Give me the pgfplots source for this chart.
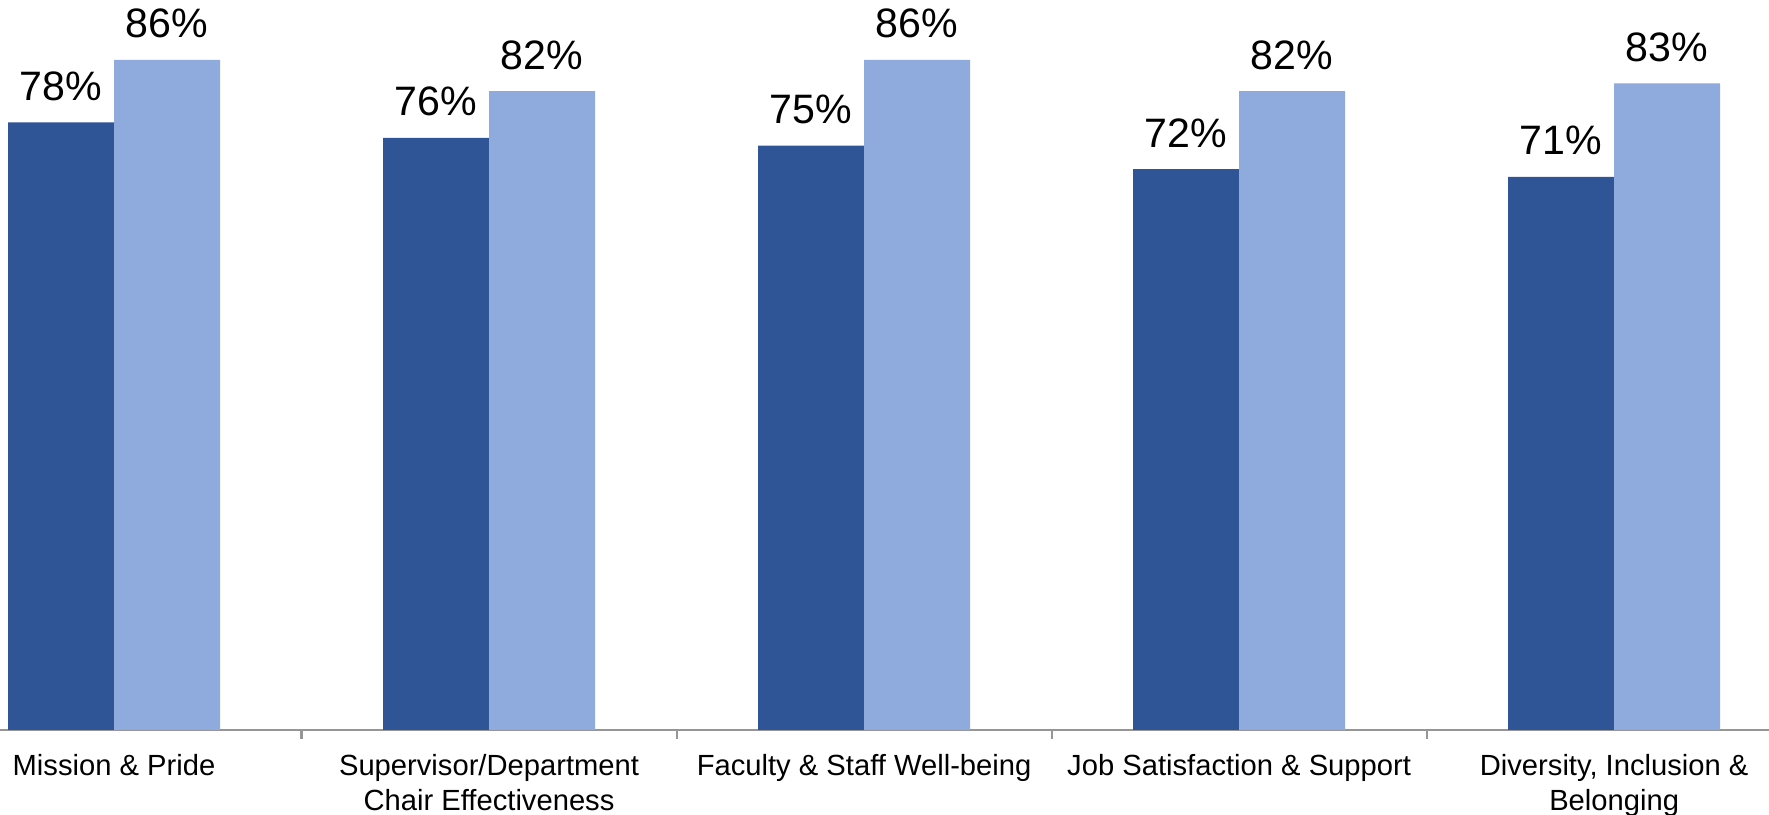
\documentclass[border=0pt]{standalone}
\usepackage{pgfplots}
\pgfplotsset{compat=1.18}
\usepackage{fontspec}
\setmainfont{Liberation Sans}
\definecolor{darkbar}{HTML}{2F5597}
\definecolor{lightbar}{HTML}{8FAADC}
\definecolor{axgray}{RGB}{150,150,150}
\begin{document}
\begin{tikzpicture}
\begin{axis}[
  name=ax,
  scale only axis,
  width=176.9mm, height=73mm,
  xmin=-0.304, xmax=4.413,
  ymin=0, ymax=93.7,
  ybar=0pt, bar width=10.6mm,
  axis x line=bottom, axis y line=none,
  x axis line style={-, draw=axgray, line width=0.6pt},
  xtick={0,1,2,3,4},
  xticklabels={{Mission \& Pride}, {Supervisor/Department\\Chair Effectiveness}, {Faculty \& Staff Well-being}, {Job Satisfaction \& Support}, {Diversity, Inclusion \&\\Belonging}},
  major tick length=0pt,
  extra x ticks={0.5,1.5,2.5,3.5},
  extra x tick labels={},
  extra x tick style={major tick length=0.9mm, tick align=outside, tick style={draw=axgray, line width=0.6pt}},
  xticklabel style={font=\fontsize{8.3}{10}\selectfont, align=center, anchor=north, inner sep=0pt, yshift=-2.4mm},
  /pgf/number format/assume math mode=true,
  nodes near coords={\pgfmathprintnumber{\pgfplotspointmeta}\%},
  every node near coord/.append style={font=\fontsize{11.7}{14}\selectfont, anchor=base, inner sep=0pt, yshift=2.2mm, text=black},
  clip=false,
]
\addplot[fill=darkbar, draw=none] coordinates {(0,78) (1,76) (2,75) (3,72) (4,71)};
\addplot[fill=lightbar, draw=none] coordinates {(0,86) (1,82) (2,86) (3,82) (4,83)};
\end{axis}
\pgfresetboundingbox
\path[use as bounding box] ([yshift=-8.5mm]ax.south west) rectangle (ax.north east);
\end{tikzpicture}
\end{document}
